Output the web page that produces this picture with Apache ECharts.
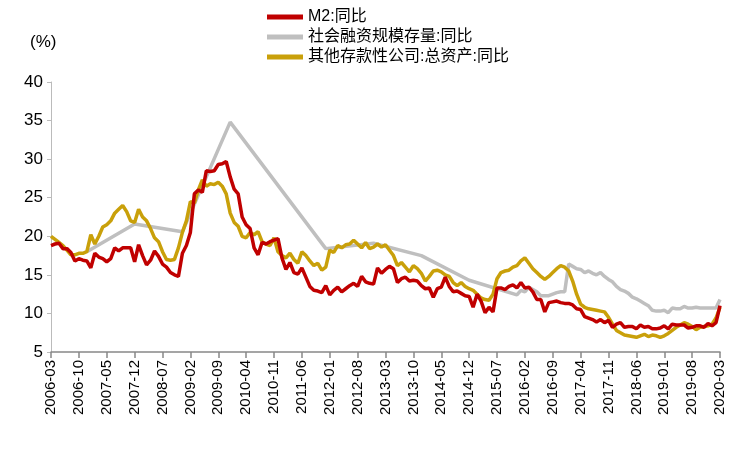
<!DOCTYPE html>
<html><head><meta charset="utf-8">
<script src="https://cdn.jsdelivr.net/npm/echarts@6/dist/echarts.min.js"></script>
<style>html,body{margin:0;background:#fff}#c{width:750px;height:450px}</style>
</head><body><div id="c"></div>
<script>
// 月份 2006-03 ~ 2020-03
const months = [];
for (let y = 2006; y <= 2020; y++) for (let m = 1; m <= 12; m++) {
  if ((y === 2006 && m < 3) || (y === 2020 && m > 3)) continue;
  months.push(y + '-' + String(m).padStart(2, '0'));
}

// M2:同比
const m2 = [
  18.8,19.0,19.1,18.4,18.4,17.9,16.8,17.1,16.9,16.8,
  15.9,17.8,17.3,17.1,16.7,17.1,18.5,18.1,18.5,18.5,18.5,16.7,
  18.9,17.5,16.3,16.9,18.1,17.4,16.4,16.0,15.3,15.0,14.8,17.8,
  18.8,20.5,25.5,26.0,25.7,28.5,28.4,28.5,29.3,29.4,29.7,27.7,
  26.1,25.5,22.5,21.5,21.0,18.5,17.6,19.2,19.0,19.3,19.5,19.7,
  17.2,15.7,16.6,15.3,15.1,15.9,14.7,13.5,13.0,12.9,12.7,13.6,
  12.4,13.0,13.4,12.8,13.2,13.6,13.9,13.5,14.8,14.1,13.9,13.8,
  15.9,15.2,15.7,16.1,15.8,14.0,14.5,14.7,14.2,14.3,14.2,13.6,
  13.2,13.3,12.1,13.2,13.4,14.7,13.5,12.8,12.9,12.6,12.3,12.2,
  10.8,12.5,11.6,10.1,10.8,10.2,13.3,13.3,13.1,13.5,13.7,13.3,
  14.0,13.3,13.4,12.8,11.8,11.8,10.2,11.4,11.5,11.6,11.4,11.3,
  11.3,11.1,10.6,10.5,9.6,9.4,9.2,8.9,9.2,8.8,9.1,8.2,
  8.6,8.8,8.2,8.3,8.3,8.0,8.5,8.2,8.3,8.0,8.0,8.1,
  8.4,8.0,8.6,8.5,8.5,8.5,8.1,8.2,8.4,8.4,8.2,8.7,
  8.4,8.8,11.0
];

// 其他存款性公司:总资产:同比
const odc = [
  20.0,19.6,19.2,18.8,18.2,17.6,17.6,17.8,17.8,18.0,
  20.2,19.0,20.0,21.2,21.5,22.0,23.0,23.5,24.0,23.2,22.0,21.8,
  23.5,22.5,22.0,21.0,19.8,19.3,18.0,17.0,16.9,17.0,18.5,20.5,
  22.0,24.5,24.3,26.0,27.3,26.5,26.8,26.7,27.0,26.5,25.5,23.0,
  21.8,21.3,20.0,19.8,20.5,20.2,20.6,19.3,19.0,18.8,19.8,18.0,
  17.5,17.2,17.8,17.0,16.5,18.0,17.5,16.8,16.2,16.5,15.6,16.0,
  18.2,17.9,18.8,18.5,18.9,19.0,19.5,19.0,18.5,19.2,18.4,18.6,
  19.0,18.6,18.9,18.2,17.5,16.2,16.6,16.0,15.4,16.2,15.8,15.2,
  14.2,14.8,15.5,15.6,15.4,15.0,14.8,14.0,13.6,14.0,13.5,13.2,
  13.0,12.5,12.0,11.8,11.7,12.5,14.5,15.3,15.5,15.6,16.0,16.2,
  16.8,17.2,16.5,15.8,15.3,14.8,14.4,14.8,15.3,15.8,16.2,16.0,
  15.5,14.2,12.5,11.2,10.8,10.6,10.5,10.4,10.3,10.2,9.5,8.6,
  7.8,7.5,7.2,7.1,7.0,6.9,7.1,7.3,7.0,7.2,7.1,6.9,
  7.1,7.4,7.8,8.2,8.5,8.8,8.6,8.3,7.9,8.2,8.3,8.4,
  8.6,9.4,10.8
];

// 社会融资规模存量:同比 (早期为年度数据)
const tsfPoints = [
  ['2006-12', 18.0], ['2007-12', 21.6], ['2008-12', 20.6], ['2009-12', 34.8],
  ['2011-12', 18.4], ['2012-12', 19.1], ['2013-12', 17.5], ['2014-12', 14.3],
  ['2015-12', 12.4],
  ['2016-01', 13.0], ['2016-02', 12.8], ['2016-03', 13.4], ['2016-04', 13.1],
  ['2016-05', 12.8], ['2016-06', 12.3], ['2016-07', 12.3], ['2016-08', 12.3],
  ['2016-09', 12.5], ['2016-10', 12.7], ['2016-11', 12.8], ['2016-12', 12.8],
  ['2017-01', 16.4], ['2017-02', 16.1], ['2017-03', 15.8], ['2017-04', 15.7],
  ['2017-05', 15.3], ['2017-06', 15.5], ['2017-07', 15.2], ['2017-08', 15.0],
  ['2017-09', 15.3], ['2017-10', 14.8], ['2017-11', 14.4], ['2017-12', 14.1],
  ['2018-01', 13.5], ['2018-02', 13.1], ['2018-03', 12.9], ['2018-04', 12.6],
  ['2018-05', 12.1], ['2018-06', 11.9], ['2018-07', 11.6], ['2018-08', 11.3],
  ['2018-09', 11.0], ['2018-10', 10.4], ['2018-11', 10.3], ['2018-12', 10.3],
  ['2019-01', 10.4], ['2019-02', 10.1], ['2019-03', 10.7], ['2019-04', 10.6],
  ['2019-05', 10.6], ['2019-06', 10.9], ['2019-07', 10.7], ['2019-08', 10.7],
  ['2019-09', 10.8], ['2019-10', 10.7], ['2019-11', 10.7], ['2019-12', 10.7],
  ['2020-01', 10.7], ['2020-02', 10.7], ['2020-03', 11.8]
];

const chart = echarts.init(document.getElementById('c'));
const font = '"Liberation Sans", "Noto Sans CJK SC", sans-serif';
chart.setOption({
  animation: false,
  textStyle: { fontFamily: font },
  legend: {
    orient: 'vertical', left: 262, top: 4, itemGap: 4,
    itemWidth: 36, itemHeight: 5,
    textStyle: { fontSize: 16, color: '#000', fontFamily: font },
    data: [
      { name: 'M2:同比', icon: 'rect', itemStyle: { color: '#c00000' } },
      { name: '社会融资规模存量:同比', icon: 'rect', itemStyle: { color: '#bfbfbf' } },
      { name: '其他存款性公司:总资产:同比', icon: 'rect', itemStyle: { color: '#c9a00a' } }
    ]
  },
  graphic: [{ type: 'text', left: 30, top: 34, style: { text: '(%)', fontSize: 17, fill: '#000', fontFamily: font } }],
  grid: { left: 51, right: 30, top: 82, bottom: 98 },
  xAxis: {
    type: 'category', data: months, boundaryGap: false,
    axisLine: { lineStyle: { color: '#888', width: 1.5 } },
    axisTick: { interval: 6, alignWithLabel: true, length: 6, lineStyle: { color: '#888', width: 1.5 } },
    axisLabel: { interval: 6, rotate: 90, fontSize: 15, color: '#000', fontFamily: font }
  },
  yAxis: {
    type: 'value', min: 5, max: 40, interval: 5,
    splitLine: { show: false },
    axisLine: { show: true, lineStyle: { color: '#bbb' } },
    axisTick: { show: true, length: 4, lineStyle: { color: '#bbb' } },
    axisLabel: { fontSize: 17, color: '#000', fontFamily: font }
  },
  series: [
    { name: '社会融资规模存量:同比', type: 'line', data: tsfPoints, connectNulls: true,
      showSymbol: false, lineStyle: { width: 3.5, color: '#bfbfbf' }, itemStyle: { color: '#bfbfbf' }, z: 1 },
    { name: '其他存款性公司:总资产:同比', type: 'line', data: odc,
      showSymbol: false, lineStyle: { width: 3.5, color: '#c9a00a' }, itemStyle: { color: '#c9a00a' }, z: 2 },
    { name: 'M2:同比', type: 'line', data: m2,
      showSymbol: false, lineStyle: { width: 3.5, color: '#c00000' }, itemStyle: { color: '#c00000' }, z: 3 }
  ]
});
</script></body></html>
